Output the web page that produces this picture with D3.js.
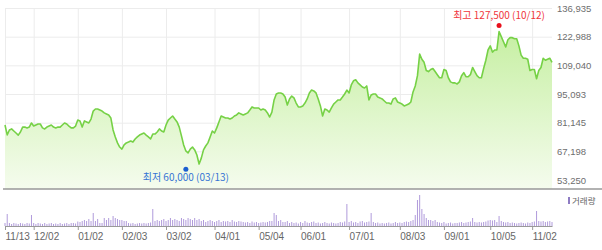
<!DOCTYPE html>
<html>
<head>
<meta charset="utf-8">
<script src="https://cdn.jsdelivr.net/npm/d3@7"></script>
<style>
  body { margin: 0; background: #fff; }
  svg text { font-family: "Liberation Sans", Arial, sans-serif; }
  .note { font-family: "Noto Sans CJK KR", sans-serif !important; }
</style>
</head>
<body>
<svg width="602" height="250"></svg>
<script>
  // trading calendar (KRX), 1 year
  const startDate = '2019-11-13';
  const endDate = '2020-11-13';
  const holidays = ['2019-12-25', '2019-12-31', '2020-01-01', '2020-01-24', '2020-01-27',
    '2020-04-15', '2020-04-30', '2020-05-01', '2020-05-05', '2020-08-17',
    '2020-09-30', '2020-10-01', '2020-10-02', '2020-10-09'];

  // daily close (원)
  const prices = [
    80000, 75200, 77600, 78100, 77100, 76100, 75100, 76600, 79000, 79000,
    78600, 79000, 81000, 79500, 80000, 80500, 80500, 78600, 78100, 79000,
    79500, 80000, 79000, 78600, 79000, 79000, 80000, 81000, 80500, 79500,
    78600, 78600, 79500, 82400, 82000, 79000, 82000, 81500, 81000, 82900,
    86800, 87800, 87800, 87300, 86800, 85900, 85400, 84900, 83400, 77600,
    74200, 71300, 69300, 68300, 70300, 71300, 71700, 72200, 71700, 73200,
    74200, 75100, 75600, 76100, 75100, 74200, 73200, 75600, 75600, 76600,
    78100, 77100, 76600, 80000, 82400, 83400, 84400, 82900, 81500, 79000,
    74700, 70300, 67400, 66400, 68300, 69300, 67900, 65400, 61000, 63900,
    67900, 69800, 71300, 74200, 77100, 76100, 78600, 81500, 84400, 83900,
    83400, 83400, 82900, 83400, 84400, 84900, 85900, 85400, 84900, 85400,
    85900, 87300, 88800, 88300, 88300, 88300, 87300, 87800, 87300, 85900,
    83900, 86300, 92200, 95100, 95600, 95600, 95100, 93600, 89700, 92700,
    94100, 93200, 90700, 88800, 88800, 89300, 90700, 92700, 95600, 97000,
    96600, 95600, 92700, 89300, 84400, 87800, 87300, 86300, 88300, 90200,
    91200, 92200, 92200, 93600, 95100, 97000, 95600, 99500, 101500, 102000,
    100500, 99500, 98500, 98000, 99000, 92200, 94600, 95100, 95100, 93600,
    93200, 92700, 91700, 90700, 90700, 90200, 92700, 93200, 91200, 90700,
    90200, 89300, 89700, 90200, 91200, 96100, 99000, 104000, 114500, 112000,
    110500, 106500, 106000, 107000, 107500, 106000, 104500, 103000, 103000, 107000,
    106500, 103000, 101000, 100500, 100500, 100000, 101000, 104000, 105500, 103500,
    103500, 104500, 108000, 106000, 104000, 103000, 103000, 107500, 111500, 116500,
    118500, 115500, 116500, 116500, 125500, 123000, 120500, 118000, 121500, 122500,
    122500, 122000, 122000, 118500, 114000, 112500, 112500, 112000, 106500, 107000,
    107000, 102500, 106500, 108000, 112500, 111500, 112000, 112500, 110500
  ];

  // daily volume (천주)
  const volumes = [
    300, 1200, 300, 200, 300, 250, 200, 300, 250, 200, 300, 250, 1100,
    300, 200, 300, 250, 200, 300, 200, 250, 300, 200, 250, 200, 300, 200, 250, 300, 200, 300, 300, 250,
    450, 400, 500, 600, 500, 700, 500, 1300, 500, 700, 300,
    300, 800, 600, 800, 600, 1000, 800, 700, 600, 600, 500, 500,
    300, 250, 300, 200, 250, 300, 250, 300, 250, 300, 350,
    1700,
    500, 600, 500, 600, 700, 500, 600, 800, 600, 700, 600, 500, 800, 700, 600, 800, 700, 600, 800, 600, 700,
    500, 600, 400, 500, 600, 500, 400, 500, 600, 400, 500, 450, 500, 400, 600, 450, 400, 500, 450, 400,
    350, 400, 300, 450, 350, 400, 300, 350, 400, 350,
    400, 500, 500,
    1300, 1100,
    500, 600, 400, 400, 500, 300, 400,
    300, 350, 250, 400, 300, 500, 350, 300, 400, 450, 300, 350, 250, 300, 400, 300, 250, 350, 300, 250, 300, 400, 350, 450,
    2200,
    400, 500, 350, 400, 300, 450, 500, 350, 400, 450,
    1300,
    400, 300, 350, 250, 300, 250, 300, 350, 250, 300, 400, 300, 350, 300, 400, 450, 400, 500,
    600, 1100, 2600, 3100, 1700, 1200, 800, 600, 600, 500, 600, 400,
    350, 300, 400, 250, 300, 350, 250, 300, 300, 350, 400, 300, 350, 400, 450,
    800,
    400, 350, 400, 350, 400, 450,
    550, 600, 550, 600,
    400,
    1000,
    500, 400, 350, 400, 300, 350, 300, 250, 300, 350, 300, 250, 350, 300, 400, 450,
    1500,
    500, 450, 500, 400, 450, 500, 400
  ];

  const xTickDates = ['2019-11-13', '2019-12-02', '2020-01-02', '2020-02-03', '2020-03-02',
    '2020-04-01', '2020-05-04', '2020-06-01', '2020-07-01', '2020-08-03',
    '2020-09-01', '2020-10-05', '2020-11-02'];
  const yTicks = [53250, 67198, 81145, 95093, 109040, 122988, 136935];

  const highPoint = { date: '2020-10-12', value: 127500, label: '최고 127,500 (10/12)' };
  const lowPoint = { date: '2020-03-13', value: 60000, label: '최저 60,000 (03/13)' };
  const volumeLabel = '거래량';

  const parse = d3.utcParse('%Y-%m-%d');
  const fmtKey = d3.utcFormat('%Y-%m-%d');
  const fmtTick = d3.utcFormat('%m/%d');

  const dates = d3.utcDay.range(parse(startDate), d3.utcDay.offset(parse(endDate), 1))
    .filter(d => d.getUTCDay() !== 0 && d.getUTCDay() !== 6 && !holidays.includes(fmtKey(d)))
    .map(fmtKey);

  const data = dates.map((d, i) => ({ date: d, price: prices[i], volume: volumes[i] }));

  const svg = d3.select('svg');
  const left = 5, right = 552;
  const priceTop = 8, priceBottom = 189;
  const volTop = 194, volBottom = 226;

  const xScale = d3.scalePoint()
    .domain(dates)
    .range([left, right]);

  const yScale = d3.scaleLinear()
    .domain([53250, 136935])
    .range([180, priceTop]);

  const yVol = d3.scaleLinear()
    .domain([0, 3200])
    .range([volBottom, volTop]);

  // gradient fill
  const grad = svg.append('defs').append('linearGradient')
    .attr('id', 'fill')
    .attr('gradientUnits', 'userSpaceOnUse')
    .attr('x1', 0).attr('x2', 0)
    .attr('y1', 30).attr('y2', priceBottom);
  grad.append('stop').attr('offset', 0).attr('stop-color', '#c6efa2');
  grad.append('stop').attr('offset', 1).attr('stop-color', '#f5fcee');

  // grid
  const xGrid = svg.append('g')
    .attr('transform', `translate(0,${priceBottom})`)
    .call(d3.axisBottom(xScale).tickValues(xTickDates).tickSize(-(priceBottom - priceTop)).tickFormat(''));
  xGrid.select('.domain').remove();
  xGrid.selectAll('.tick line').attr('stroke', '#ececec');

  const yAxisG = svg.append('g')
    .attr('transform', `translate(${right},0)`)
    .call(d3.axisRight(yScale).tickValues(yTicks).tickSize(-(right - left)).tickPadding(5)
      .tickFormat(d3.format(',')));
  yAxisG.select('.domain').remove();
  yAxisG.selectAll('.tick line').attr('stroke', '#ececec');
  yAxisG.selectAll('.tick text')
    .attr('fill', '#6e6e6e')
    .attr('font-size', 9.5);

  // price area + line
  const area = d3.area()
    .x(d => xScale(d.date))
    .y0(priceBottom)
    .y1(d => yScale(d.price));
  const line = d3.line()
    .x(d => xScale(d.date))
    .y(d => yScale(d.price));

  svg.append('path')
    .datum(data)
    .attr('d', area)
    .attr('fill', 'url(#fill)');
  svg.append('path')
    .datum(data)
    .attr('d', line)
    .attr('fill', 'none')
    .attr('stroke', '#76d146')
    .attr('stroke-width', 1.6)
    .attr('stroke-linejoin', 'round');

  // separator
  svg.append('line')
    .attr('x1', 3).attr('x2', 602)
    .attr('y1', priceBottom).attr('y2', priceBottom)
    .attr('stroke', '#999')
    .attr('stroke-width', 1.5);

  // volume
  svg.append('g').selectAll('rect').data(data)
    .enter().append('rect')
      .attr('x', d => xScale(d.date) - 0.5)
      .attr('y', d => yVol(d.volume))
      .attr('width', 1)
      .attr('height', d => volBottom - yVol(d.volume))
      .attr('fill', '#b09bdb');

  const xAxisG = svg.append('g')
    .attr('transform', `translate(0,${volBottom})`)
    .call(d3.axisBottom(xScale).tickValues(xTickDates).tickSize(4).tickSizeOuter(0)
      .tickFormat(d => fmtTick(parse(d))));
  xAxisG.select('.domain').attr('stroke', '#999');
  xAxisG.selectAll('.tick line').attr('stroke', '#999');
  xAxisG.selectAll('.tick text')
    .attr('text-anchor', 'start')
    .attr('fill', '#666')
    .attr('font-size', 10);

  // legend
  svg.append('rect')
    .attr('x', 568).attr('y', 197)
    .attr('width', 2).attr('height', 7)
    .attr('fill', '#8e7cc3');
  svg.append('text')
    .attr('class', 'note')
    .attr('x', 572).attr('y', 204)
    .attr('font-size', 8.5)
    .attr('fill', '#666')
    .text(volumeLabel);

  // high / low notes
  const hx = xScale(highPoint.date), hy = yScale(highPoint.value) - 2;
  svg.append('circle').attr('cx', hx).attr('cy', hy).attr('r', 2.5).attr('fill', '#e8101c');
  svg.append('text')
    .attr('class', 'note')
    .attr('x', hx).attr('y', hy - 6)
    .attr('text-anchor', 'middle')
    .attr('font-size', 10)
    .attr('fill', '#f0353b')
    .text(highPoint.label);

  const lx = xScale(lowPoint.date), ly = yScale(lowPoint.value) + 3;
  svg.append('circle').attr('cx', lx).attr('cy', ly).attr('r', 2.5).attr('fill', '#1b5fd0');
  svg.append('text')
    .attr('class', 'note')
    .attr('x', lx).attr('y', ly + 12)
    .attr('text-anchor', 'middle')
    .attr('font-size', 10)
    .attr('fill', '#3674d4')
    .text(lowPoint.label);
</script>
</body>
</html>
